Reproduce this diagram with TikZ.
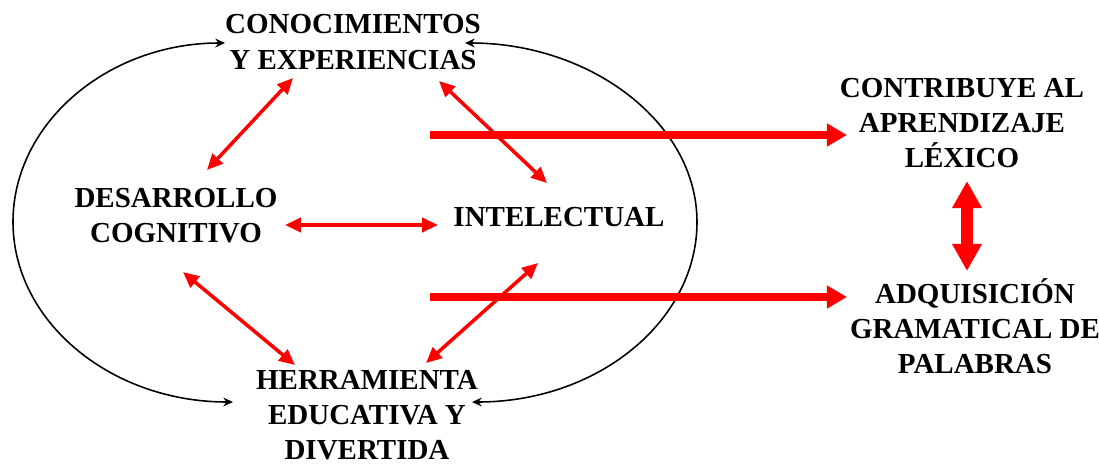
\documentclass[tikz,border=0pt]{standalone}
\usepackage{fontspec}
\setmainfont{Liberation Serif}
\usetikzlibrary{arrows.meta}
\begin{document}
\begin{tikzpicture}[x=0.02cm,y=-0.02cm,
  lbl/.style={font=\bfseries\fontsize{16.5}{20}\selectfont,align=center,inner sep=0pt},
  thin/.style={red,line width=2pt,{Triangle[length=9pt,width=8pt]}-{Triangle[length=9pt,width=8pt]}},
  thick/.style={red,line width=4pt,-{Triangle[length=11.5pt,width=12.5pt]}},
  loop/.style={black,line width=0.9pt,{Stealth[length=5.5pt,width=5pt]}-{Stealth[length=5.5pt,width=5pt]}}]
\useasboundingbox (0,0) rectangle (1099,467);
\node[lbl] (con) at (353,42) {CONOCIMIENTOS\\Y EXPERIENCIAS};
\node[lbl] (des) at (176,216) {DESARROLLO\\COGNITIVO};
\node[lbl] (int) at (559,217) {INTELECTUAL};
\node[lbl] (her) at (367,415) {HERRAMIENTA\\EDUCATIVA Y\\DIVERTIDA};
\node[lbl] (lex) at (962,123) {CONTRIBUYE AL\\APRENDIZAJE\\LÉXICO};
\node[lbl] (gra) at (975,326) {ADQUISICIÓN\\GRAMATICAL DE\\PALABRAS};
% endpoints
\coordinate (conL) at (225,43);
\coordinate (conR) at (465,43);
\coordinate (herL) at (233,402);
\coordinate (herR) at (472,402);
\coordinate (cd1) at (293,78);  \coordinate (cd2) at (207,170);
\coordinate (ci1) at (439,81);  \coordinate (ci2) at (547,183);
\coordinate (di1) at (285,225); \coordinate (di2) at (438,225);
\coordinate (dh1) at (183,272); \coordinate (dh2) at (295,365);
\coordinate (ih1) at (538,263); \coordinate (ih2) at (426,363);
\coordinate (t1) at (430,135);  \coordinate (t1e) at (847,135);
\coordinate (t2) at (430,297);  \coordinate (t2e) at (847,297);
\coordinate (v1) at (967,181);  \coordinate (v2) at (967,271);
% black loops
\draw[loop] (herL) .. controls (110,402) and (13,321) .. (13,222)
  .. controls (13,123) and (108,43) .. (conL);
\draw[loop] (herR) .. controls (598,402) and (697,321) .. (697,222)
  .. controls (697,123) and (591,43) .. (conR);
% thin red double arrows
\draw[thin] (cd1) -- (cd2);
\draw[thin] (ci1) -- (ci2);
\draw[thin] (di1) -- (di2);
\draw[thin] (dh1) -- (dh2);
\draw[thin] (ih1) -- (ih2);
% thick red arrows
\draw[thick] (t1) -- (t1e);
\draw[thick] (t2) -- (t2e);
\draw[red,line width=6.5pt,{Triangle[length=15.5pt,width=16pt]}-{Triangle[length=15.5pt,width=16pt]}] (v1) -- (v2);
\end{tikzpicture}
\end{document}
